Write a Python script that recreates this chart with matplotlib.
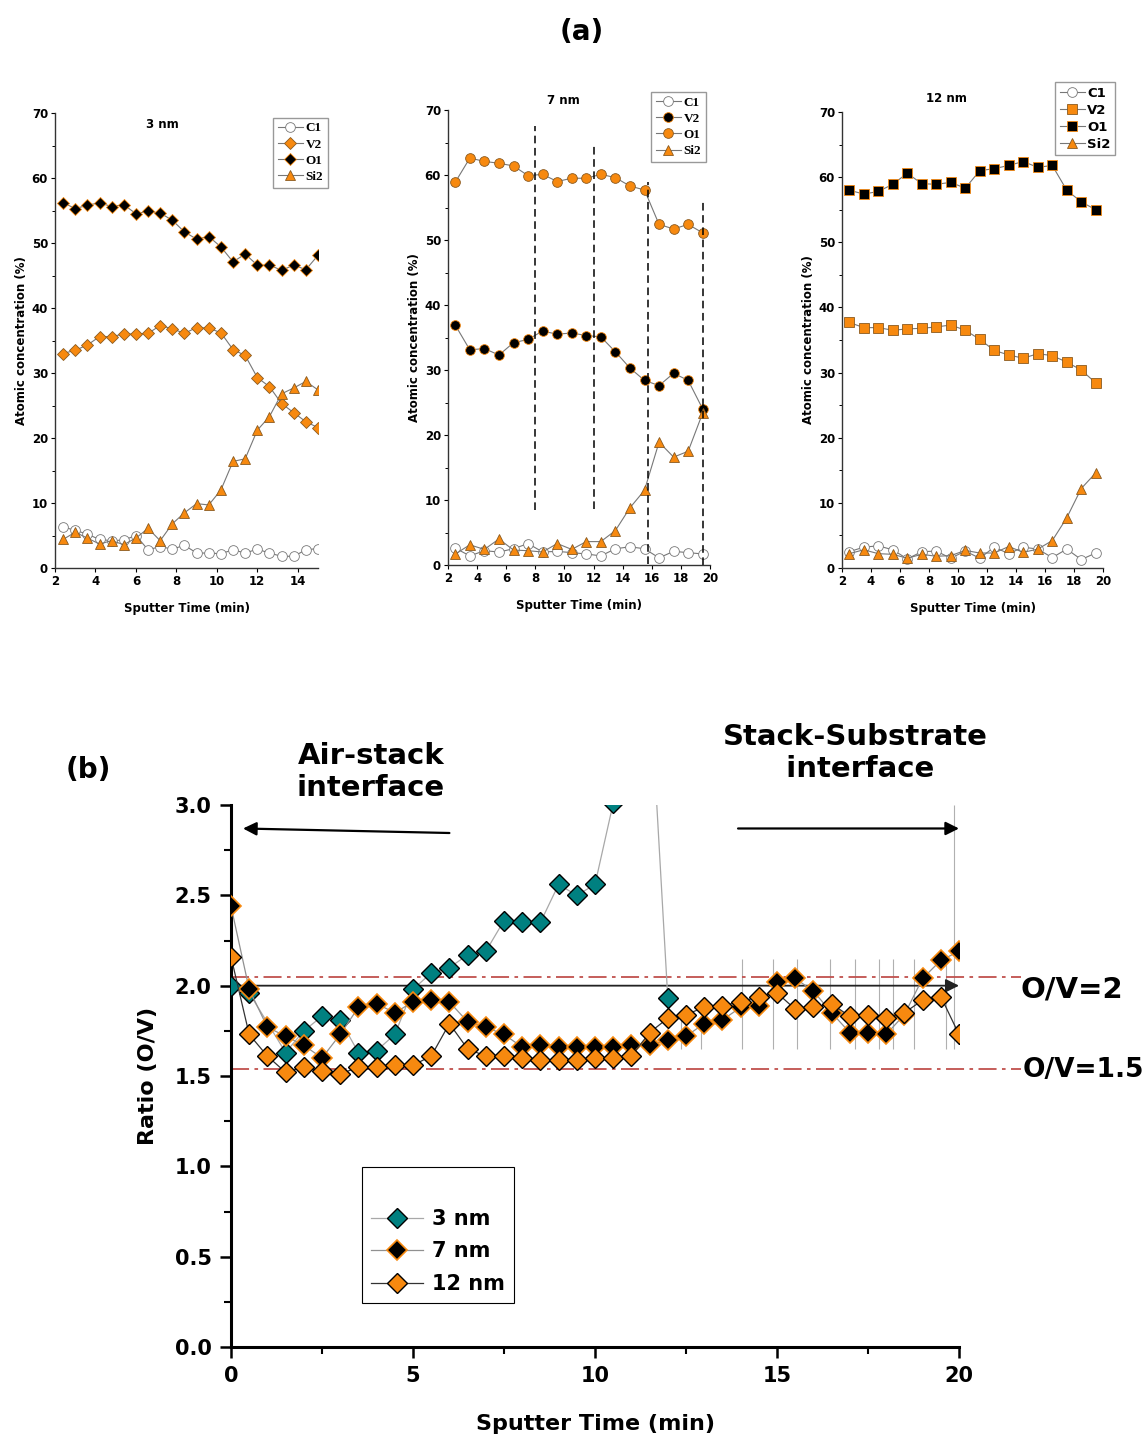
import numpy as np
import matplotlib
matplotlib.use('Agg')
import matplotlib.pyplot as plt

# ---------------- data: top panels (atomic concentration, %) ----------------
t3 = [2.4, 3.0, 3.6, 4.2, 4.8, 5.4, 6.0, 6.6, 7.2, 7.8, 8.4, 9.0, 9.6, 10.2,
      10.8, 11.4, 12.0, 12.6, 13.2, 13.8, 14.4, 15.0]
c1_3 = [6.3, 5.8, 5.2, 4.4, 4.2, 4.3, 5.0, 2.8, 3.3, 2.9, 3.5, 2.3, 2.3, 2.2,
        2.8, 2.3, 2.9, 2.3, 1.8, 1.8, 2.8, 3.0]
v2_3 = [33.0, 33.5, 34.3, 35.6, 35.6, 36.0, 36.0, 36.1, 37.3, 36.8, 36.1, 37.0,
        36.9, 36.2, 33.6, 32.7, 29.3, 27.9, 25.3, 23.9, 22.5, 21.6]
o1_3 = [56.2, 55.3, 55.8, 56.2, 55.6, 55.9, 54.5, 54.9, 54.6, 53.5, 51.7, 50.6,
        51.0, 49.4, 47.1, 48.3, 46.6, 46.6, 45.8, 46.6, 45.9, 48.1]
si2_3 = [4.4, 5.5, 4.6, 3.7, 4.2, 3.6, 4.6, 6.1, 4.2, 6.8, 8.5, 9.9, 9.7, 12.0,
         16.4, 16.8, 21.2, 23.3, 26.8, 27.7, 28.7, 27.4]

t7 = [2.5, 3.5, 4.5, 5.5, 6.5, 7.5, 8.5, 9.5, 10.5, 11.5, 12.5, 13.5, 14.5,
      15.5, 16.5, 17.5, 18.5, 19.5]
c1_7 = [2.6, 1.4, 2.2, 2.0, 2.5, 3.3, 2.0, 2.1, 1.9, 1.7, 1.4, 2.5, 2.8, 2.5,
        1.1, 2.1, 1.9, 1.7]
v2_7 = [36.9, 33.1, 33.3, 32.3, 34.2, 34.7, 36.0, 35.5, 35.7, 35.3, 35.1, 32.8,
        30.3, 28.4, 27.6, 29.5, 28.4, 24.0]
o1_7 = [58.9, 62.6, 62.1, 61.8, 61.4, 59.9, 60.1, 59.0, 59.5, 59.5, 60.1, 59.6,
        58.3, 57.7, 52.4, 51.7, 52.4, 51.1]
si2_7 = [1.7, 3.1, 2.4, 4.0, 2.3, 2.2, 2.0, 3.3, 2.4, 3.6, 3.6, 5.3, 8.8, 11.5,
         18.9, 16.6, 17.5, 23.4]
# dashed markers in the 7 nm panel: x, ymin, ymax
dash_x = [8.0, 12.0, 15.75, 19.55]
dash_lo = [8.4, 8.6, 0.2, 0.0]
dash_hi = [67.6, 64.7, 58.9, 56.0]

t12 = t7
c1_12 = [2.5, 3.2, 3.4, 2.8, 1.4, 2.5, 2.6, 1.5, 2.6, 1.5, 3.2, 2.2, 3.2, 2.9,
         1.6, 2.9, 1.3, 2.3]
v2_12 = [37.7, 36.9, 36.9, 36.5, 36.7, 36.8, 37.0, 37.3, 36.5, 35.1, 33.4, 32.7,
         32.2, 32.9, 32.6, 31.6, 30.4, 28.4]
o1_12 = [58.0, 57.4, 57.8, 58.9, 60.6, 59.0, 58.9, 59.2, 58.3, 61.0, 61.3, 61.8,
         62.4, 61.5, 61.8, 58.0, 56.2, 55.0]
si2_12 = [2.2, 2.8, 2.2, 2.1, 1.5, 2.1, 1.8, 1.9, 2.7, 2.3, 2.3, 3.3, 2.4, 2.9,
          4.2, 7.7, 12.2, 14.6]

# ---------------- data: bottom panel (O/V ratio) ----------------
tb3 = [0, 0.5, 1.5, 2.0, 2.5, 3.0, 3.5, 4.0, 4.5, 5.0, 5.5, 6.0, 6.5, 7.0, 7.5,
       8.0, 8.5, 9.0, 9.5, 10.0, 10.5, 11.0, 11.5, 12.0]
r3 = [2.00, 1.96, 1.63, 1.75, 1.83, 1.81, 1.63, 1.64, 1.73, 1.98, 2.07, 2.10,
      2.17, 2.19, 2.36, 2.35, 2.35, 2.56, 2.50, 2.56, 3.01, 4.2, 3.7, 1.93]
tb = [0, 0.5, 1.0, 1.5, 2.0, 2.5, 3.0, 3.5, 4.0, 4.5, 5.0, 5.5, 6.0, 6.5, 7.0,
      7.5, 8.0, 8.5, 9.0, 9.5, 10.0, 10.5, 11.0, 11.5, 12.0, 12.5, 13.0, 13.5,
      14.0, 14.5, 15.0, 15.5, 16.0, 16.5, 17.0, 17.5, 18.0, 18.5, 19.0, 19.5, 20.0]
r7 = [2.44, 1.98, 1.77, 1.72, 1.67, 1.60, 1.73, 1.88, 1.90, 1.85, 1.91, 1.92,
      1.91, 1.80, 1.77, 1.73, 1.66, 1.67, 1.66, 1.66, 1.66, 1.66, 1.67, 1.67,
      1.70, 1.72, 1.79, 1.81, 1.88, 1.89, 2.02, 2.04, 1.97, 1.85, 1.74, 1.74,
      1.73, 1.84, 2.04, 2.14, 2.19]
r12 = [2.16, 1.73, 1.61, 1.52, 1.55, 1.53, 1.51, 1.55, 1.55, 1.56, 1.56, 1.61,
       1.79, 1.65, 1.61, 1.61, 1.60, 1.59, 1.59, 1.59, 1.60, 1.60, 1.61, 1.74,
       1.82, 1.84, 1.88, 1.89, 1.91, 1.94, 1.96, 1.87, 1.88, 1.90, 1.83, 1.84,
       1.82, 1.85, 1.92, 1.94, 1.73]
# thin grey leftover segments of the 3 nm trace after 12 min
spike_t = [12.35, 12.9, 14.05, 14.9, 15.55, 16.45, 17.15, 17.8, 18.2, 18.75, 19.65, 19.85]
spike_lo = [1.65, 1.65, 1.65, 1.65, 1.65, 1.65, 1.65, 1.65, 1.65, 1.65, 1.65, 1.65]
spike_hi = [1.85, 1.80, 2.15, 2.15, 2.15, 2.15, 2.15, 2.15, 2.15, 2.15, 2.15, 3.0]
ref_lines = [2.05, 1.54]

ORANGE = '#F7890F'
TEAL = '#008080'
W, H = 1148, 1437

plt.rcParams['font.family'] = 'DejaVu Sans'
plt.rcParams['font.weight'] = 'bold'
fig = plt.figure(figsize=(W / 100, H / 100), dpi=100)


def box(l, t, r, b):
    return [l / W, 1 - b / H, (r - l) / W, (b - t) / H]


def top_panel(rect, xmax, xticks):
    ax = fig.add_axes(rect)
    for s in ['top', 'right']:
        ax.spines[s].set_visible(False)
    for s in ['left', 'bottom']:
        ax.spines[s].set_linewidth(1.0)
        ax.spines[s].set_color('#333333')
    ax.set_xlim(2, xmax)
    ax.set_ylim(0, 70)
    ax.set_xticks(xticks)
    ax.set_yticks(range(0, 71, 10))
    ax.set_yticks(range(5, 70, 10), minor=True)
    ax.tick_params(labelsize=8.5, length=3, width=0.8, pad=2)
    ax.tick_params(which='minor', length=2, width=0.7)
    ax.set_xlabel('Sputter Time (min)', fontsize=8.5, fontweight='bold', labelpad=10)
    ax.set_ylabel('Atomic concentration (%)', fontsize=8.5, fontweight='bold', labelpad=3)
    return ax


def series(ax, x, y, marker, fc, ec, ms, label):
    ax.plot(x, y, color='#777777', lw=0.8, marker=marker, mfc=fc, mec=ec,
            mew=0.6, ms=ms, label=label)


def panel_legend(ax, anchor, serif=True):
    fam = 'Liberation Serif' if serif else 'DejaVu Sans'
    ax.legend(loc='upper left', bbox_to_anchor=anchor,
              prop={'family': fam, 'weight': 'bold', 'size': 9.5},
              handlelength=1.9, handletextpad=0.2, labelspacing=0.3,
              borderpad=0.35, borderaxespad=0, fancybox=False,
              edgecolor='#999999', framealpha=1)


# panel 3 nm
ax1 = top_panel(box(55, 113, 318, 568), 15, range(2, 15, 2))
series(ax1, t3, c1_3, 'o', 'white', '#777777', 7, 'C1')
series(ax1, t3, v2_3, 'D', ORANGE, '#8a5a20', 6.5, 'V2')
series(ax1, t3, o1_3, 'D', 'black', ORANGE, 6.5, 'O1')
series(ax1, t3, si2_3, '^', ORANGE, '#8a5a20', 7.5, 'Si2')
ax1.text(0.41, 0.975, '3 nm', transform=ax1.transAxes, ha='center', va='center',
         fontsize=8.5, fontweight='bold')
panel_legend(ax1, (0.83, 0.99))

# panel 7 nm
ax2 = top_panel(box(448, 110, 710, 565), 20, range(2, 21, 2))
series(ax2, t7, c1_7, 'o', 'white', '#777777', 7, 'C1')
series(ax2, t7, v2_7, 'o', 'black', ORANGE, 7, 'V2')
series(ax2, t7, o1_7, 'o', ORANGE, '#8a5a20', 7, 'O1')
series(ax2, t7, si2_7, '^', ORANGE, '#8a5a20', 7.5, 'Si2')
ax2.vlines(dash_x, dash_lo, dash_hi, colors='black', linestyles=(0, (5, 3)), lw=1.1)
ax2.text(0.44, 1.02, '7 nm', transform=ax2.transAxes, ha='center', va='center',
         fontsize=8.5, fontweight='bold')
panel_legend(ax2, (0.775, 1.04))

# panel 12 nm
ax3 = top_panel(box(842, 112, 1103, 568), 20, range(2, 21, 2))
series(ax3, t12, c1_12, 'o', 'white', '#777777', 7, 'C1')
series(ax3, t12, v2_12, 's', ORANGE, '#8a5a20', 6.5, 'V2')
series(ax3, t12, o1_12, 's', 'black', ORANGE, 6.5, 'O1')
series(ax3, t12, si2_12, '^', ORANGE, '#8a5a20', 7.5, 'Si2')
ax3.text(0.40, 1.03, '12 nm', transform=ax3.transAxes, ha='center', va='center',
         fontsize=8.5, fontweight='bold')
panel_legend(ax3, (0.816, 1.065), serif=False)

# ---------------- bottom panel ----------------
ax = fig.add_axes(box(231, 805, 959, 1347))
for s in ['top', 'right']:
    ax.spines[s].set_visible(False)
for s in ['left', 'bottom']:
    ax.spines[s].set_linewidth(2.2)
ax.set_xlim(0, 20)
ax.set_ylim(0, 3.0)
ax.set_xticks([0, 5, 10, 15, 20])
ax.set_xticks(np.arange(2.5, 20, 5), minor=True)
ax.set_yticks(np.arange(0, 3.01, 0.5))
ax.set_yticks(np.arange(0.25, 3.0, 0.5), minor=True)
ax.yaxis.set_major_formatter(matplotlib.ticker.FormatStrFormatter('%.1f'))
ax.tick_params(labelsize=15, length=8, width=1.8, pad=6)
ax.tick_params(which='minor', length=5, width=1.5)
ax.set_xlabel('Sputter Time (min)', fontsize=16, fontweight='bold', labelpad=20)
ax.set_ylabel('Ratio (O/V)', fontsize=16, fontweight='bold', labelpad=12)

ax.vlines(spike_t, spike_lo, spike_hi, colors='#b0b0b0', lw=0.8, zorder=1)
for y in ref_lines:
    ax.plot([0, 21.7], [y, y], color='#c0504d', lw=1.3, dashes=(10, 3, 2, 3),
            clip_on=False, zorder=2)
ax.annotate('', xy=(20, 2.0), xytext=(0, 2.0), annotation_clip=False,
            arrowprops=dict(arrowstyle='-|>', color='#222222', lw=1.3,
                            mutation_scale=20, shrinkA=0, shrinkB=0), zorder=2)

ax.plot(tb3, r3, color='#a8a8a8', lw=0.9, marker='D', ms=10, mfc=TEAL,
        mec='black', mew=1.0, label='3 nm', zorder=3)
ax.plot(tb, r7, color='#909090', lw=0.9, marker='D', ms=10, mfc='black',
        mec=ORANGE, mew=1.2, label='7 nm', zorder=4)
ax.plot(tb, r12, color='#333333', lw=0.9, marker='D', ms=10, mfc=ORANGE,
        mec='black', mew=1.0, label='12 nm', zorder=5)

ax.annotate('', xy=(0.33, 2.87), xytext=(6.0, 2.845),
            arrowprops=dict(arrowstyle='-|>', color='black', lw=1.6,
                            mutation_scale=20, shrinkA=0, shrinkB=0))
ax.annotate('', xy=(20, 2.87), xytext=(13.93, 2.87), annotation_clip=False,
            arrowprops=dict(arrowstyle='-|>', color='black', lw=1.6,
                            mutation_scale=20, shrinkA=0, shrinkB=0))

leg = ax.legend(loc='upper left', bbox_to_anchor=(0.18, 0.332), fontsize=15,
                title=' ', title_fontsize=15, handlelength=2.5,
                handletextpad=0.4, labelspacing=0.6, borderpad=0.45,
                borderaxespad=0, fancybox=False, edgecolor='black', framealpha=1)
leg.get_frame().set_linewidth(0.8)

# figure texts
fig.text(582 / W, 1 - 32 / H, '(a)', ha='center', va='center', fontsize=20, fontweight='bold')
fig.text(88 / W, 1 - 770 / H, '(b)', ha='center', va='center', fontsize=20, fontweight='bold')
fig.text(371 / W, 1 - 772 / H, 'Air-stack\ninterface', ha='center', va='center',
         fontsize=21, fontweight='bold', linespacing=1.15)
fig.text(855 / W, 1 - 753 / H, 'Stack-Substrate\n interface', ha='center', va='center',
         fontsize=21, fontweight='bold', linespacing=1.15)
fig.text(1072 / W, 1 - 990 / H, 'O/V=2', ha='center', va='center', fontsize=21,
         fontweight='bold')
fig.text(1144 / W, 1 - 1070 / H, 'O/V=1.5', ha='right', va='center', fontsize=19,
         fontweight='bold')

fig.savefig('out.png', dpi=100)
